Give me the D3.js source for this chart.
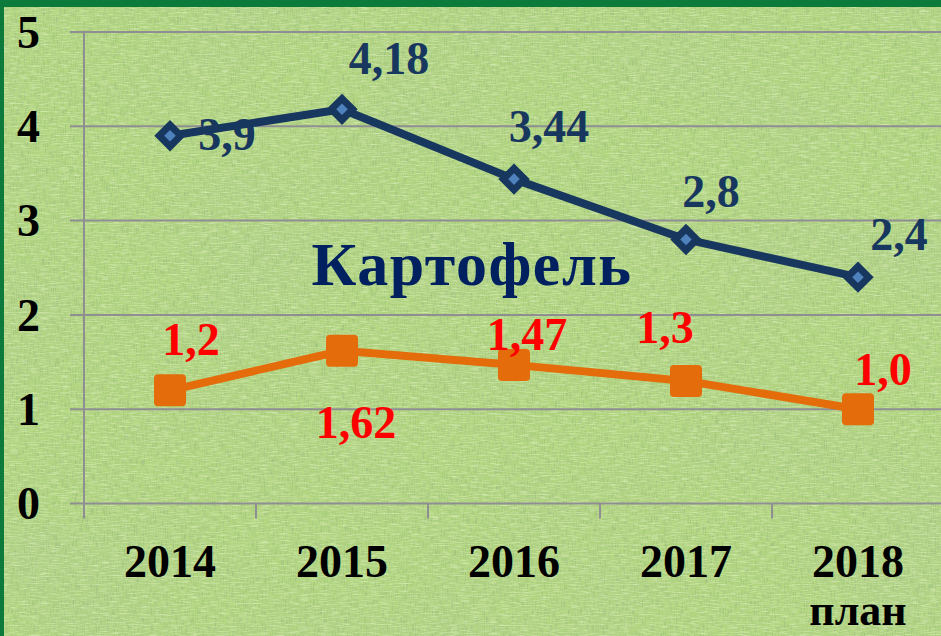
<!DOCTYPE html>
<html>
<head>
<meta charset="utf-8">
<script src="https://cdn.jsdelivr.net/npm/d3@7"></script>
<style>
html, body { margin:0; padding:0; background:#0b7a3a; }
svg { display:block; }
</style>
</head>
<body>
<svg id="lineChart"></svg>
<script>

// data
var years = ["2014", "2015", "2016", "2017", "2018"];
var yearNotes = ["", "", "", "", "план"];
var potato = [3.9, 4.18, 3.44, 2.8, 2.4];
var potatoLabels = ["3,9", "4,18", "3,44", "2,8", "2,4"];
var other = [1.2, 1.62, 1.47, 1.3, 1.0];
var otherLabels = ["1,2", "1,62", "1,47", "1,3", "1,0"];
var yTicks = [0, 1, 2, 3, 4, 5];

// where each value label sits next to its point (layout only)
var potatoOffsets = [[57,14],[47,-35],[35,-37],[25,-32],[41,-27]];
var otherOffsets = [[21,-35],[14,87],[13,-15],[-21,-38],[25,-24]];

var screen = {width:941, height:636};
var plot = {left:84, top:32, bottom:503.5, right:944};

var svg = d3.select("svg#lineChart")
    .attr("width", screen.width)
    .attr("height", screen.height);

//background texture
var defs = svg.append("defs");

var cloth = defs.append("filter")
    .attr("id","cloth")
    .attr("x",0).attr("y",0).attr("width","100%").attr("height","100%");
cloth.append("feTurbulence")
    .attr("type","fractalNoise")
    .attr("baseFrequency","0.9 0.12")
    .attr("numOctaves",2)
    .attr("seed",3)
    .attr("result","n1");
cloth.append("feColorMatrix")
    .attr("in","n1")
    .attr("type","matrix")
    .attr("values","0 0 0 0 0.25  0 0 0 0 0.42  0 0 0 0 0.2  0 0 -2.2 0 1.25")
    .attr("result","c1");
cloth.append("feTurbulence")
    .attr("type","fractalNoise")
    .attr("baseFrequency","0.1 0.9")
    .attr("numOctaves",2)
    .attr("seed",8)
    .attr("result","n2");
cloth.append("feColorMatrix")
    .attr("in","n2")
    .attr("type","matrix")
    .attr("values","0 0 0 0 0.85  0 0 0 0 0.95  0 0 0 0 0.65  0 0 -2.4 0 1.3")
    .attr("result","c2");
cloth.append("feMerge").call(function(m){
    m.append("feMergeNode").attr("in","c1");
    m.append("feMergeNode").attr("in","c2");
});

var clouds = defs.append("filter")
    .attr("id","clouds")
    .attr("x",0).attr("y",0).attr("width","100%").attr("height","100%");
clouds.append("feTurbulence")
    .attr("type","fractalNoise")
    .attr("baseFrequency","0.006 0.01")
    .attr("numOctaves",3)
    .attr("seed",5);
clouds.append("feColorMatrix")
    .attr("type","matrix")
    .attr("values","0 0 0 0 0.45  0 0 0 0 0.62  0 0 0 0 0.3  0 0 -1.6 0 0.95");

svg.append("rect")
    .attr("width",screen.width).attr("height",screen.height)
    .attr("fill","#b3d681");
svg.append("rect")
    .attr("width",screen.width).attr("height",screen.height)
    .attr("filter","url(#clouds)")
    .attr("opacity",0.45);
svg.append("rect")
    .attr("width",screen.width).attr("height",screen.height)
    .attr("filter","url(#cloth)")
    .attr("opacity",0.5);

//green frame
svg.append("rect").attr("x",0).attr("y",0)
    .attr("width",screen.width).attr("height",7).attr("fill","#0b7a3a");
svg.append("rect").attr("x",0).attr("y",0)
    .attr("width",4).attr("height",screen.height).attr("fill","#0b7a3a");

//scales
var xScale = d3.scaleBand()
    .domain(years)
    .range([plot.left, plot.right])
    .paddingInner(0).paddingOuter(0);

var yScale = d3.scaleLinear()
    .domain([0,5])
    .range([plot.bottom, plot.top]);

var xMid = function(d){ return xScale(d) + xScale.bandwidth()/2; };

var axisFont = "'Liberation Serif', 'Times New Roman', serif";

//grid
var grid = svg.append("g").classed("grid",true);
grid.selectAll("line")
    .data(yTicks)
    .enter()
    .append("line")
    .attr("x1",70)
    .attr("x2",screen.width)
    .attr("y1",function(d){ return yScale(d); })
    .attr("y2",function(d){ return yScale(d); })
    .attr("stroke","#8f8f93")
    .attr("stroke-width",2);

//axes
var yAxis = d3.axisLeft(yScale)
    .tickValues(yTicks)
    .tickSize(0)
    .tickPadding(0)
    .tickFormat(d3.format("d"));

var yAxisG = svg.append("g")
    .attr("transform","translate(" + 40 + ",0)")
    .call(yAxis);
yAxisG.select(".domain").remove();
yAxisG.selectAll("text")
    .attr("font-family",axisFont)
    .attr("font-weight","bold")
    .attr("font-size",46)
    .attr("fill","#000")
    .attr("dy","0.33em");

svg.append("line")
    .attr("x1",plot.left).attr("x2",plot.left)
    .attr("y1",plot.top).attr("y2",plot.bottom+15)
    .attr("stroke","#8f8f93").attr("stroke-width",2);

var xAxis = d3.axisBottom(xScale)
    .tickSize(0)
    .tickPadding(0);

var xAxisG = svg.append("g")
    .attr("transform","translate(0," + 577 + ")")
    .call(xAxis);
xAxisG.select(".domain").remove();
xAxisG.selectAll("text")
    .attr("font-family",axisFont)
    .attr("font-weight","bold")
    .attr("font-size",46)
    .attr("fill","#000")
    .attr("dy",0);
xAxisG.selectAll(".tick")
    .append("text")
    .text(function(d,i){ return yearNotes[i]; })
    .attr("font-family",axisFont)
    .attr("font-weight","bold")
    .attr("font-size",44)
    .attr("fill","#000")
    .attr("text-anchor","middle")
    .attr("y",48);

//category separators under the baseline
svg.append("g").selectAll("line")
    .data(years)
    .enter()
    .append("line")
    .attr("x1",function(d){ return xScale(d) + xScale.bandwidth(); })
    .attr("x2",function(d){ return xScale(d) + xScale.bandwidth(); })
    .attr("y1",plot.bottom)
    .attr("y2",plot.bottom+15)
    .attr("stroke","#8f8f93").attr("stroke-width",2);

//lines
var lineGenerator = d3.line()
    .x(function(d,i){ return xMid(years[i]); })
    .y(function(d){ return yScale(d); });

var drawSeries = function(values, colour)
{
    svg.append("path")
        .datum(values)
        .attr("d",lineGenerator)
        .attr("fill","none")
        .attr("stroke",colour)
        .attr("stroke-width",8)
        .attr("stroke-linejoin","round");
}

drawSeries(other, "#e46c0a");
drawSeries(potato, "#17375e");

//orange squares
svg.append("g").selectAll("rect")
    .data(other)
    .enter()
    .append("rect")
    .attr("x",function(d,i){ return xMid(years[i]) - 16; })
    .attr("y",function(d){ return yScale(d) - 16; })
    .attr("width",32).attr("height",32)
    .attr("rx",4)
    .attr("fill","#e46c0a");

//blue diamonds
var diamond = d3.symbol().type(d3.symbolSquare).size(230);
svg.append("g").selectAll("path")
    .data(potato)
    .enter()
    .append("path")
    .attr("d",diamond)
    .attr("transform",function(d,i){
        return "translate(" + xMid(years[i]) + "," + yScale(d) + ") rotate(45)";
    })
    .attr("fill","#4f81bd")
    .attr("stroke","#17375e")
    .attr("stroke-width",7)
    .attr("stroke-linejoin","miter");

//value labels
var labelFont = "'Liberation Serif', 'Times New Roman', serif";

var drawLabels = function(values, texts, offsets, colour)
{
    svg.append("g").selectAll("text")
        .data(values)
        .enter()
        .append("text")
        .text(function(d,i){ return texts[i]; })
        .attr("x",function(d,i){ return xMid(years[i]) + offsets[i][0]; })
        .attr("y",function(d,i){ return yScale(d) + offsets[i][1]; })
        .attr("text-anchor","middle")
        .attr("font-family",labelFont)
        .attr("font-weight","bold")
        .attr("font-size",46)
        .attr("fill",colour);
}

drawLabels(potato, potatoLabels, potatoOffsets, "#17375e");
drawLabels(other, otherLabels, otherOffsets, "#ff0000");

//series name
svg.append("text")
    .text("Картофель")
    .attr("x",472)
    .attr("y",285)
    .attr("text-anchor","middle")
    .attr("font-family",labelFont)
    .attr("font-weight","bold")
    .attr("font-size",62)
    .attr("letter-spacing",1.5)
    .attr("fill","#002060");

</script>
</body>
</html>
